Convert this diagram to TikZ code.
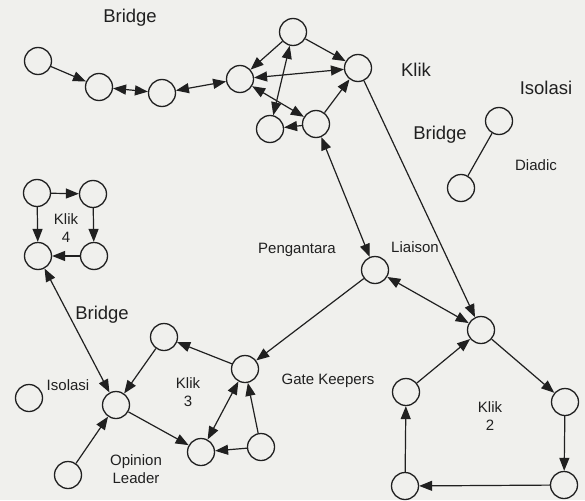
\documentclass[tikz,border=0pt]{standalone}
\usepackage{fontspec}
\setmainfont{Liberation Sans}
\usetikzlibrary{automata, positioning, arrows.meta}
\definecolor{paper}{RGB}{240,240,237}
\definecolor{ink}{RGB}{32,32,32}
\tikzset{
    ->, % makes the edges directed
    every state/.style={draw=ink, line width=1.3pt, fill=paper, inner sep=0pt}, % sets the properties for each 'state' node
    every edge/.style={draw=ink, line width=1.2pt}, % the connectors
    >={Triangle[length=13pt, width=10pt]}, % filled arrow heads
}

\begin{document}
\begin{tikzpicture}[
        x=1pt, y=-1pt,
        styleDot/.style={minimum size=27pt},
        styleBig/.style={text=ink, font=\fontsize{18.5}{20}\selectfont},
        styleLabel/.style={text=ink, font=\fontsize{15}{18}\selectfont, align=center},
    ]
    \fill[paper] (0,0) rectangle (585,500);
    \useasboundingbox (0,0) rectangle (585,500);
    % Bridge chain and top clique
    \node[state, styleDot] (b1) at (38,61) {};
    \node[state, styleDot] (b2) at (99,87) {};
    \node[state, styleDot] (b3) at (162,93) {};
    \node[state, styleDot] (h1) at (240,79) {};
    \node[state, styleDot] (h2) at (293,32) {};
    \node[state, styleDot] (h3) at (358,68) {};
    \node[state, styleDot] (h4) at (270,129) {};
    \node[state, styleDot] (h5) at (316,124) {};
    % Klik 4
    \node[state, styleDot] (k41) at (37,193) {};
    \node[state, styleDot] (k42) at (93,194) {};
    \node[state, styleDot] (k43) at (38,256) {};
    \node[state, styleDot] (k44) at (94,256) {};
    % Liaison and Klik 2
    \node[state, styleDot] (li) at (375,270) {};
    \node[state, styleDot] (k21) at (481,330) {};
    \node[state, styleDot] (k22) at (565,402) {};
    \node[state, styleDot] (k23) at (564,485) {};
    \node[state, styleDot] (k24) at (405,486) {};
    \node[state, styleDot] (k25) at (406,392) {};
    % Diadic
    \node[state, styleDot] (d1) at (499,121) {};
    \node[state, styleDot] (d2) at (461,188) {};
    % Klik 3
    \node[state, styleDot] (ol) at (116,405) {};
    \node[state, styleDot] (k31) at (164,337) {};
    \node[state, styleDot] (gk) at (245,369) {};
    \node[state, styleDot] (k32) at (201,452) {};
    \node[state, styleDot] (k33) at (261,447) {};
    \node[state, styleDot] (k34) at (68,475) {};
    \node[state, styleDot] (iso) at (29,398) {};
    % labels
    \node[styleBig] (tBridgeA) at (130,18) {Bridge};
    \node[styleBig] (tKlikA) at (416,70) {Klik};
    \node[styleBig] (tIsoA) at (546,88) {Isolasi};
    \node[styleBig] (tBridgeB) at (440,135) {Bridge};
    \node[styleLabel] (tDiadic) at (536,165) {Diadic};
    \node[styleLabel] (tPeng) at (297,250) {Pengantara};
    \node[styleLabel] (tLiaison) at (415,247) {Liaison};
    \node[styleLabel] (tGate) at (328,381) {Gate Keepers};
    \node[styleLabel] (tKlikB) at (490,416) {Klik\\2};
    \node[styleLabel] (tKlikC) at (66,228) {Klik\\4};
    \node[styleBig] (tBridgeC) at (102,315) {Bridge};
    \node[styleLabel] (tIsoB) at (68,385) {Isolasi};
    \node[styleLabel] (tKlikD) at (188,392) {Klik\\3};
    \node[styleLabel] (tOpinion) at (136,469) {Opinion\\Leader};
    \draw
    (b1) edge (b2)
    (b2) edge[<->] (b3)
    (b3) edge[<->] (h1)
    (h2) edge (h1)
    (h1) edge[<->] (h3)
    (h2) edge[<->] (h4)
    (h1) edge[<->] (h5)
    (h5) edge (h4)
    (h5) edge (h3)
    (h2) edge (h3)
    (h3) edge (k21)
    (h5) edge[<->] (li)
    (li) edge[<->] (k21)
    (li) edge (gk)
    (k21) edge (k22)
    (k22) edge (k23)
    (k23) edge (k24)
    (k24) edge (k25)
    (k25) edge (k21)
    (d1) edge[-] (d2)

    (k41) edge (k42)
    (k41) edge (k43)
    (k42) edge (k44)
    (k44) edge (k43)
    (ol) edge[<->] (k43)
    (k31) edge (ol)
    (gk) edge (k31)
    (ol) edge (k32)
    (gk) edge[<->] (k32)
    (k33) edge (k32)
    (k33) edge (gk)
    (k34) edge (ol);
\end{tikzpicture}
\end{document}
